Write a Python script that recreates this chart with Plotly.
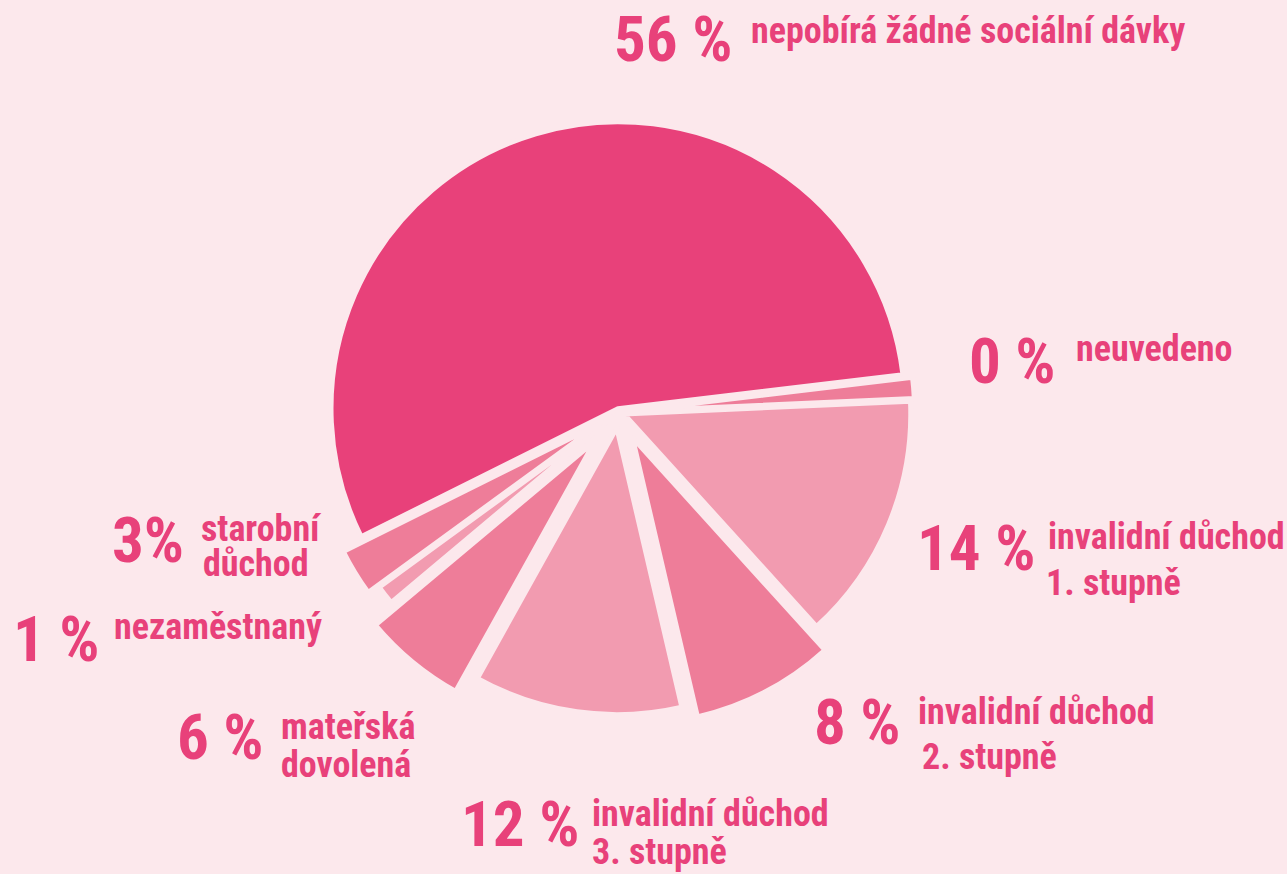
import plotly.graph_objects as go

# ---- data ----
categories = ["nepobírá žádné sociální dávky", "neuvedeno", "invalidní důchod 1. stupně",
              "invalidní důchod 2. stupně", "invalidní důchod 3. stupně", "mateřská dovolená",
              "nezaměstnaný", "starobní důchod"]
slice_values = [56.3, 1.2, 14.2, 8.2, 11.9, 5.9, 1.1, 2.7]
label_pcts = ["56 %", "0 %", "14 %", "8 %", "12 %", "6 %", "1 %", "3%"]
label_lines = [["nepobírá žádné sociální dávky"], ["neuvedeno"], ["invalidní důchod", "1. stupně"],
               ["invalidní důchod", "2. stupně"], ["invalidní důchod", "3. stupně"],
               ["mateřská", "dovolená"], ["nezaměstnaný"], ["starobní", "důchod"]]

# ---- style / layout ----
W, H = 1287, 874
BG = "#FCE8EC"
DARK = "#E8417A"
MED = "#EE7D99"
LIGHT = "#F29BB0"
TEXT = "#E8417A"
slice_colors = [DARK, MED, LIGHT, MED, LIGHT, MED, LIGHT, MED]
pulls = [0.012, 0.03, 0.018, 0.10, 0.055, 0.13, 0.035, 0.077]

FONT = "Liberation Sans Narrow, Roboto Condensed, DejaVu Sans Condensed, Liberation Sans, sans-serif"
BIG = 63
SMALL = 36

# pie geometry (pixels)
cx, cy, R = 619, 412, 287
half = R * (1 + max(pulls))
dom_x = [(cx - half) / W, (cx + half) / W]
dom_y = [(H - cy - half) / H, (H - cy + half) / H]

fig = go.Figure(go.Pie(
    labels=categories, values=slice_values, sort=False, direction="clockwise",
    rotation=-116.5, pull=pulls,
    marker=dict(colors=slice_colors, line=dict(color=BG, width=5)),
    textinfo="none", hoverinfo="none", showlegend=False,
    domain=dict(x=dom_x, y=dom_y),
))

# annotation placement: (left px, baseline px) for big number, then for each label line
num_pos = [(613, 62), (968, 384), (916, 571), (813, 745), (460, 847), (176, 760), (12, 662), (111, 563)]
line_pos = [[(750, 44)], [(1075, 362)], [(1047, 550), (1045, 596)], [(917, 725), (921, 770)],
            [(591, 827), (591, 865)], [(280, 740), (280, 778)], [(113, 640)], [(200, 542), (202, 577)]]

annotations = []
def add(text, px, base, size):
    yc = base - 0.35 * size
    annotations.append(dict(
        text=text, x=(px - 1) / W, y=1 - yc / H, xref="paper", yref="paper",
        xanchor="left", yanchor="middle", showarrow=False,
        font=dict(family=FONT, size=size, color=TEXT, weight="bold"),
    ))

for i in range(len(categories)):
    add(label_pcts[i], num_pos[i][0], num_pos[i][1], BIG)
    for txt, (lx, lb) in zip(label_lines[i], line_pos[i]):
        add(txt, lx, lb, SMALL)

fig.update_layout(
    width=W, height=H, margin=dict(l=0, r=0, t=0, b=0),
    paper_bgcolor=BG, plot_bgcolor=BG, annotations=annotations,
)

fig.write_html("out.html", config={"displayModeBar": False})

# remove the browser's default page margin so the figure fills the window
with open("out.html", "r", encoding="utf-8") as f:
    html = f.read()
html = html.replace("<head>", "<head><style>html,body{margin:0;padding:0;background:%s;overflow:hidden;}</style>" % BG, 1)
with open("out.html", "w", encoding="utf-8") as f:
    f.write(html)
